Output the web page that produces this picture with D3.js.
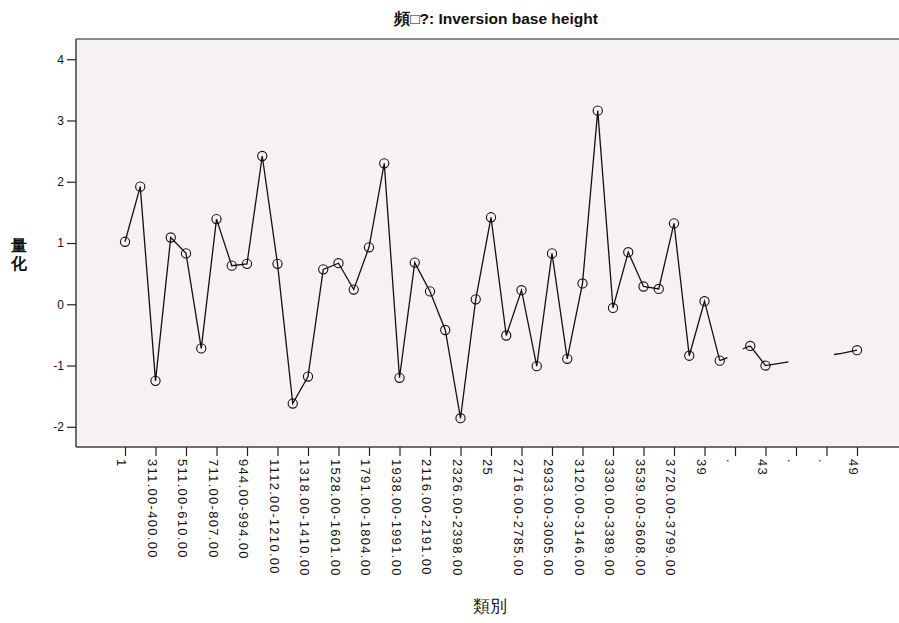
<!DOCTYPE html>
<html><head><meta charset="utf-8">
<script src="https://cdn.jsdelivr.net/npm/d3@7/dist/d3.min.js"></script>
<style>
html,body{margin:0;padding:0;background:#fff;}
svg text{font-family:"Liberation Sans",Arial,sans-serif;}
</style></head>
<body><svg id="chart" width="899" height="623"></svg>
<script>
// ---- data ----
const titleText = "頻□?: Inversion base height";
const yLabelChars = ["量", "化"];
const xLabelText = "類別";
// category index (1..49) and quantification value; null = no value
const categories = d3.range(1, 50);
const values = [
  1.02, 1.92, -1.25, 1.09, 0.83, -0.72, 1.39, 0.63, 0.66, 2.42,
  0.66, -1.62, -1.18, 0.57, 0.67, 0.24, 0.93, 2.30, -1.20, 0.68,
  0.21, -0.42, -1.86, 0.08, 1.42, -0.51, 0.23, -1.01, 0.83, -0.89,
  0.34, 3.16, -0.06, 0.85, 0.29, 0.25, 1.32, -0.84, 0.05, -0.92,
  null, -0.68, -1.00, -0.96, null, null, null, -0.80, -0.75
];
// categories that carry a line but no marker
const noMarker = [44, 48];
// partial line pieces at the edges of gaps: from category, to category, end value
const stubFrom = [40, 42, 44, 48];
const stubTo = [40.5, 41.5, 44.5, 47.5];
const stubValue = [-0.87, -0.73, -0.94, -0.82];
// tick labels, one per odd category
const tickCats = d3.range(1, 50, 2);
const tickLabels = [
  "1", "311.00-400.00", "511.00-610.00", "711.00-807.00", "944.00-994.00",
  "1112.00-1210.00", "1318.00-1410.00", "1528.00-1601.00", "1791.00-1804.00",
  "1938.00-1991.00", "2116.00-2191.00", "2326.00-2398.00", "25",
  "2716.00-2785.00", "2933.00-3005.00", "3120.00-3146.00", "3330.00-3389.00",
  "3539.00-3608.00", "3720.00-3799.00", "39", ".", "43", ".", ".", "49"
];
const yTicks = [-2, -1, 0, 1, 2, 3, 4];

// ---- layout ----
const svg = d3.select("#chart");
const L = 76, R = 899, T = 39, B = 447;
const x = d3.scaleLinear().domain([1, 49]).range([125, 857]);
const y = d3.scaleLinear().domain([-2, 4]).range([426.8, 59.2]);

svg.append("rect").attr("x", L).attr("y", T).attr("width", R - L).attr("height", B - T)
  .attr("fill", "#f5f1f5");
svg.append("line").attr("x1", L).attr("x2", R).attr("y1", T).attr("y2", T)
  .attr("stroke", "#8a8a8a").attr("stroke-width", 2);

// y axis
const yAxis = d3.axisLeft(y).tickValues(yTicks).tickSize(9).tickPadding(3).tickFormat(d => String(d));
const gy = svg.append("g").attr("transform", `translate(${L},0)`).call(yAxis);
gy.select(".domain").attr("d", `M0,${T}V${B}`).attr("stroke", "#404040").attr("stroke-width", 1.5);
gy.selectAll(".tick line").attr("stroke", "#222").attr("stroke-width", 1.2);
gy.selectAll(".tick text").attr("font-size", 12).attr("fill", "#111")
  .attr("font-family", "'Liberation Sans', Arial, sans-serif");

// x axis
const xAxis = d3.axisBottom(x).tickValues(tickCats).tickSize(9).tickFormat((d, i) => tickLabels[i]);
const gx = svg.append("g").attr("transform", `translate(0,${B})`).call(xAxis);
gx.select(".domain").attr("d", `M${L},0H${R}`).attr("stroke", "#404040").attr("stroke-width", 1.5);
gx.selectAll(".tick line").attr("stroke", "#222").attr("stroke-width", 1.2);
gx.selectAll(".tick text")
  .attr("font-size", 13).attr("fill", "#111")
  .attr("letter-spacing", "1.3px")
  .attr("font-family", "'Liberation Sans', Arial, sans-serif")
  .attr("text-anchor", "start")
  .attr("transform", "rotate(90)")
  .attr("x", 12).attr("y", 0).attr("dy", "0.62em");

// line
const pts = categories.map((c, i) => ({c, v: values[i]}));
const line = d3.line().defined(d => d.v !== null).x(d => x(d.c)).y(d => y(d.v));
svg.append("path").datum(pts).attr("d", line)
  .attr("fill", "none").attr("stroke", "#111").attr("stroke-width", 1.3);
stubFrom.forEach((c, i) => {
  const seg = [{c, v: values[c - 1]}, {c: stubTo[i], v: stubValue[i]}];
  svg.append("path").datum(seg).attr("d", line)
    .attr("fill", "none").attr("stroke", "#111").attr("stroke-width", 1.3);
});

// markers
svg.append("g").selectAll("circle")
  .data(pts.filter(d => d.v !== null && !noMarker.includes(d.c)))
  .join("circle")
  .attr("cx", d => x(d.c)).attr("cy", d => y(d.v)).attr("r", 4.6)
  .attr("fill", "none").attr("stroke", "#111").attr("stroke-width", 1.1);

// title
svg.append("text").attr("x", 496).attr("y", 24).attr("text-anchor", "middle")
  .attr("font-size", 15.5).attr("font-weight", "bold").attr("fill", "#111")
  .attr("font-family", "'Liberation Sans','Noto Sans CJK SC',sans-serif")
  .text(titleText);

// axis labels
svg.append("text").attr("x", 490).attr("y", 612).attr("text-anchor", "middle")
  .attr("font-size", 17).attr("fill", "#111")
  .attr("font-family", "'Noto Sans CJK TC','Noto Sans CJK SC',sans-serif")
  .text(xLabelText);
svg.append("g").selectAll("text").data(yLabelChars).join("text")
  .attr("x", 19).attr("y", (d, i) => 251 + i * 18).attr("text-anchor", "middle")
  .attr("font-size", 16).attr("font-weight", "bold").attr("fill", "#111")
  .attr("font-family", "'Noto Sans CJK SC','Noto Sans CJK TC',sans-serif")
  .text(d => d);
</script></body></html>
